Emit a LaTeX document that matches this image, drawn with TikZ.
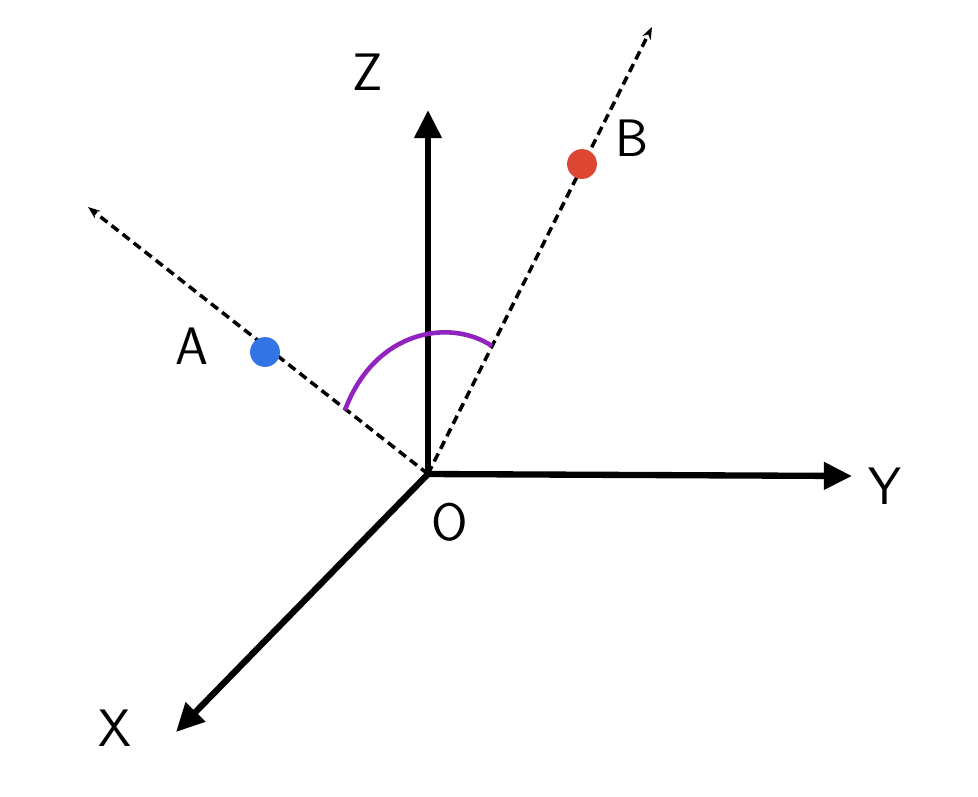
\documentclass[tikz,border=0pt]{standalone}
\usepackage{tikz}
\usetikzlibrary{arrows.meta}
\definecolor{dotblue}{RGB}{50,115,230}
\definecolor{dotred}{RGB}{220,70,50}
\definecolor{arcpurple}{RGB}{145,35,190}
\tikzset{
  axis/.style={line width=3.6pt, -{Triangle[length=16pt,width=15pt]}},
  ray/.style={line width=2pt, dash pattern=on 5pt off 3pt, -{Stealth[open,length=7pt]}},
  lbl/.style={font=\sffamily\fontsize{30}{30}\selectfont}
}
\begin{document}
\begin{tikzpicture}[x=0.02cm,y=-0.02cm]
\useasboundingbox (0,0) rectangle (978,796);

\coordinate (O) at (428,474);
\coordinate (Zt) at (428,110);
\coordinate (Yt) at (852,476);
\coordinate (Xt) at (176,732);
\coordinate (At) at (88,207);
\coordinate (Bt) at (652,27);

\draw [axis] (O) -- (Zt);
\draw [axis] (O) -- (Yt);
\draw [axis] (O) -- (Xt);
\draw [ray] (O) -- (At);
\draw [ray] (O) -- (Bt);

\draw [arcpurple, line width=2.6pt] (345,410) .. controls (375,330) and (450,318) .. (492,346);

\node [circle, fill=dotblue, minimum size=17pt, inner sep=0pt] (A) at (265,352) {};
\node [circle, fill=dotred, minimum size=17pt, inner sep=0pt] (B) at (582,164) {};

\node [lbl] (zl) at (368,72) {Z};
\node [lbl] (bl) at (632,138) {B};
\node [lbl] (al) at (192,346) {A};
\node [lbl] (yl) at (885,486) {Y};
\node [lbl] (ol) at (450,522) {O};
\node [lbl] (xl) at (115,728) {X};

\end{tikzpicture}
\end{document}
